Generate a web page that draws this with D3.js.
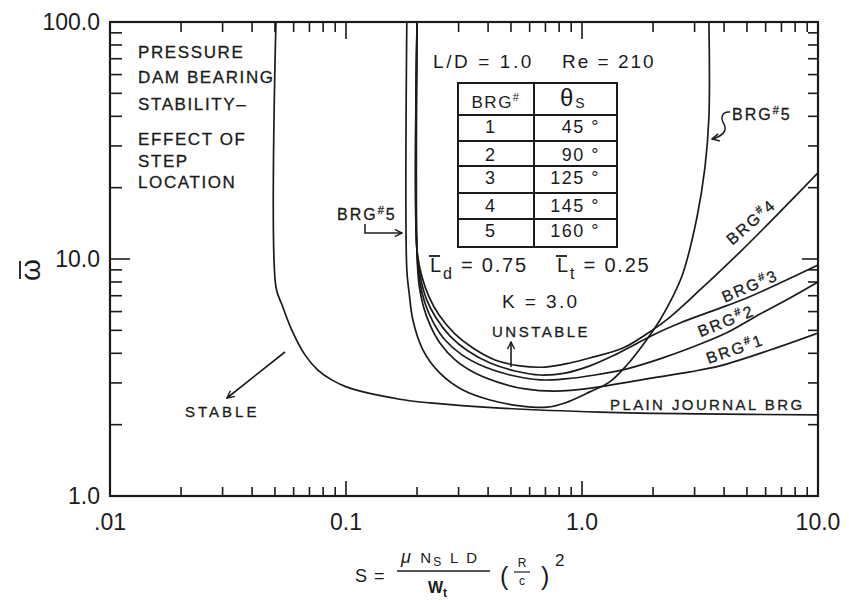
<!DOCTYPE html>
<html>
<head>
<meta charset="utf-8">
<script src="https://cdn.jsdelivr.net/npm/d3@7"></script>
<style>
  html, body { margin: 0; padding: 0; background: #fff; }
  svg { display: block; font-family: "Liberation Sans", Arial, sans-serif; }
</style>
</head>
<body>
<svg id="chart" width="849" height="603"></svg>
<script>
// Stability threshold curves: [Sommerfeld number S, whirl frequency ratio ω̄]
const plainJournal = [[0.0505,100],[0.0505,7.6],[0.0536,6.4],[0.059,5.0],[0.067,3.94],[0.076,3.4],[0.087,3.09],[0.101,2.88],[0.169,2.56],[0.227,2.47],[0.45,2.35],[1.19,2.26],[3.16,2.22],[10,2.2]];
const brg1 = [[0.2,100],[0.2,10.4],[0.204,7.77],[0.212,6.40],[0.227,5.27],[0.25,4.42],[0.29,3.75],[0.352,3.30],[0.449,3.00],[0.573,2.83],[0.768,2.77],[1.11,2.86],[2.0,3.15],[2.87,3.34],[3.84,3.54],[6.26,4.13],[10,4.87]];
const brg2 = [[0.2,100],[0.2,10.6],[0.206,7.92],[0.216,6.52],[0.234,5.42],[0.263,4.55],[0.31,3.94],[0.388,3.50],[0.495,3.24],[0.664,3.09],[0.847,3.12],[1.135,3.24],[1.55,3.44],[2.14,3.79],[2.87,4.21],[4.08,4.87],[5.68,5.86],[7.61,6.85],[10,8.0]];
const brg3 = [[0.2,100],[0.2,10.7],[0.208,8.15],[0.22,6.71],[0.241,5.64],[0.276,4.73],[0.329,4.09],[0.408,3.64],[0.52,3.37],[0.664,3.24],[0.847,3.30],[1.08,3.54],[1.38,3.94],[1.60,4.25],[2.0,4.78],[2.6,5.37],[4.08,6.34],[5.1,6.91],[6.9,7.92],[10,9.43]];
const brg4 = [[0.2,100],[0.2,10.9],[0.21,8.4],[0.225,6.91],[0.248,5.80],[0.287,4.87],[0.345,4.21],[0.428,3.75],[0.546,3.54],[0.697,3.50],[0.89,3.64],[1.08,3.82],[1.49,4.21],[1.85,4.78],[2.36,5.69],[3.16,7.40],[4.67,10.7],[6.9,15.8],[10,23.1]];
const brg5 = [[0.181,100],[0.181,9.0],[0.185,7.26],[0.192,5.53],[0.212,4.13],[0.25,3.30],[0.313,2.80],[0.408,2.54],[0.546,2.40],[0.711,2.37],[0.847,2.47],[1.08,2.75],[1.31,3.03],[1.55,3.57],[1.85,4.47],[2.14,5.53],[2.41,6.85],[2.68,8.73],[3.07,15.0],[3.32,24.4],[3.45,39.7],[3.45,100]];

// Bearing table
const bearingIds = ["1","2","3","4","5"];
const stepAngles = [45, 90, 125, 145, 160];

// Axis ticks: labelled decades and the minor marks between them
const xTickValues = [0.01, 0.1, 1, 10];
const xTickLabels = [".01", "0.1", "1.0", "10.0"];
const yTickValues = [1, 10, 100];
const yTickLabels = ["1.0", "10.0", "100.0"];
const xMinorTicks = [0.02,0.03,0.04,0.05,0.06,0.07,0.08,0.09,0.1,0.2,0.3,0.4,0.5,0.6,0.7,0.8,0.9,1,2,3,4,5,6,7,8,9];
const yMinorTicks = [2,3,4,5,6,7,8,9,10,20,30,40,50,60,70,80,90];

const ink = "#1b1b1b";
const plot = { left: 110, right: 818, top: 22, bottom: 496 };
const svg = d3.select("#chart");

const x = d3.scaleLog().domain([0.01, 10]).range([plot.left, plot.right]);
const y = d3.scaleLog().domain([1, 100]).range([plot.bottom, plot.top]);
const isDecade = v => Math.abs(Math.log10(v) - Math.round(Math.log10(v))) < 1e-9;

// frame with inward tick marks
const axisG = svg.append("g");
axisG.append("rect")
  .attr("x", plot.left).attr("y", plot.top)
  .attr("width", plot.right - plot.left).attr("height", plot.bottom - plot.top)
  .attr("fill", "none").attr("stroke", ink).attr("stroke-width", 2.2);
xMinorTicks.forEach(d => {
  const px = x(d), big = isDecade(d);
  axisG.append("line").attr("x1", px).attr("x2", px).attr("y1", plot.bottom).attr("y2", plot.bottom - (big ? 15 : 9))
    .attr("stroke", ink).attr("stroke-width", 1.6);
  axisG.append("line").attr("x1", px).attr("x2", px).attr("y1", plot.top).attr("y2", plot.top + (big ? 17 : 10))
    .attr("stroke", ink).attr("stroke-width", 1.6);
});
yMinorTicks.forEach(d => {
  const py = y(d), big = isDecade(d);
  axisG.append("line").attr("y1", py).attr("y2", py).attr("x1", plot.left).attr("x2", plot.left + (big ? 20 : 12))
    .attr("stroke", ink).attr("stroke-width", 1.6);
  axisG.append("line").attr("y1", py).attr("y2", py).attr("x1", plot.right).attr("x2", plot.right - (big ? 16 : 10))
    .attr("stroke", ink).attr("stroke-width", 1.6);
});

// tick labels
xTickValues.forEach((d, i) => {
  axisG.append("text").attr("x", x(d)).attr("y", plot.bottom + 34).attr("text-anchor", "middle")
    .attr("font-size", 23).attr("fill", ink).text(xTickLabels[i]);
});
yTickValues.forEach((d, i) => {
  axisG.append("text").attr("x", plot.left - 10).attr("y", y(d) + 8).attr("text-anchor", "end")
    .attr("font-size", 23).attr("fill", ink).text(yTickLabels[i]);
});

// curves
svg.append("clipPath").attr("id", "plotclip").append("rect")
  .attr("x", plot.left).attr("y", plot.top)
  .attr("width", plot.right - plot.left).attr("height", plot.bottom - plot.top);

const curveGen = d3.line().x(d => x(d[0])).y(d => y(d[1])).curve(d3.curveCatmullRom.alpha(0.5));
const curves = svg.append("g").attr("clip-path", "url(#plotclip)");
[plainJournal, brg1, brg2, brg3, brg4, brg5].forEach(s => {
  curves.append("path").attr("d", curveGen(s))
    .attr("fill", "none").attr("stroke", ink).attr("stroke-width", 1.7)
    .attr("stroke-linejoin", "round");
});

// arrowhead
const defs = svg.append("defs");
defs.append("marker").attr("id", "arrow")
  .attr("viewBox", "0 0 10 10").attr("refX", 9).attr("refY", 5)
  .attr("markerWidth", 9).attr("markerHeight", 9)
  .attr("markerUnits", "userSpaceOnUse").attr("orient", "auto")
  .append("path").attr("d", "M1,1 L9,5 L1,9")
  .attr("fill", "none").attr("stroke", ink).attr("stroke-width", 1.6);

function txt(xp, yp, str, size, ls, anchor) {
  return svg.append("text").attr("x", xp).attr("y", yp).text(str)
    .attr("font-size", size).attr("letter-spacing", ls || 0)
    .attr("text-anchor", anchor || "start").attr("fill", ink);
}
function seg(x1, y1, x2, y2, w) {
  svg.append("line").attr("x1", x1).attr("y1", y1).attr("x2", x2).attr("y2", y2)
    .attr("stroke", ink).attr("stroke-width", w || 1.6);
}

// title block
const titleLines = ["PRESSURE", "DAM BEARING", "STABILITY–", "EFFECT OF", "STEP", "LOCATION"];
const titleBase = [58, 83, 110, 145, 167, 188];
titleLines.forEach((t, i) => txt(138, titleBase[i], t, 17, 1.6).attr("stroke", ink).attr("stroke-width", 0.3));

// parameters
txt(433, 68, "L/D = 1.0", 19, 2.6);
txt(562, 68, "Re = 210", 19, 2);

// table
const tbl = { x0: 458, x1: 534, x2: 617, rows: [83, 115, 141, 166, 193, 219, 247] };
const tg = svg.append("g").attr("stroke", ink).attr("stroke-width", 2).attr("fill", "none");
tg.append("rect").attr("x", tbl.x0).attr("y", tbl.rows[0])
  .attr("width", tbl.x2 - tbl.x0).attr("height", tbl.rows[6] - tbl.rows[0]);
tg.append("line").attr("x1", tbl.x1).attr("x2", tbl.x1).attr("y1", tbl.rows[0]).attr("y2", tbl.rows[6]);
tbl.rows.slice(1, 6).forEach(r => tg.append("line").attr("x1", tbl.x0).attr("x2", tbl.x2).attr("y1", r).attr("y2", r));

const hdr = txt(496, 108, "BRG", 17, 1.5, "middle");
hdr.append("tspan").attr("font-size", 11).attr("dy", -7).text("#");
const th = svg.append("text").attr("x", 560).attr("y", 106).attr("fill", ink);
th.append("tspan").attr("font-size", 24).text("θ");
th.append("tspan").attr("font-size", 14).attr("dy", 2).attr("dx", 2).text("S");
const rowBase = [133, 161, 184, 212, 237];
bearingIds.forEach((b, i) => {
  txt(490, rowBase[i], b, 18, 0, "middle");
  txt(600, rowBase[i], stepAngles[i] + " °", 18, 1.5, "end");
});

// land ratios with barred L
function barredL(xp, sub, rest) {
  const t = svg.append("text").attr("x", xp).attr("y", 272).attr("fill", ink)
    .attr("font-size", 20).attr("letter-spacing", 1.8);
  t.append("tspan").text("L");
  t.append("tspan").attr("font-size", 16).attr("dy", 7).text(sub);
  t.append("tspan").attr("dy", -7).text(" = " + rest);
  seg(xp - 1, 256, xp + 10, 256, 1.8);
}
barredL(430, "d", "0.75");
barredL(557, "t", "0.25");
txt(502, 308, "K = 3.0", 19, 2.4);

// region labels
txt(492, 337, "UNSTABLE", 15, 2.5).attr("stroke", ink).attr("stroke-width", 0.3);
svg.append("line").attr("x1", 511).attr("y1", 367).attr("x2", 511).attr("y2", 342)
  .attr("stroke", ink).attr("stroke-width", 1.6).attr("marker-end", "url(#arrow)");
txt(185, 417, "STABLE", 15, 3).attr("stroke", ink).attr("stroke-width", 0.3);
svg.append("line").attr("x1", 285).attr("y1", 352).attr("x2", 227).attr("y2", 398)
  .attr("stroke", ink).attr("stroke-width", 1.6).attr("marker-end", "url(#arrow)");
txt(610, 410, "PLAIN JOURNAL BRG", 15, 2.4).attr("stroke", ink).attr("stroke-width", 0.3);

// bearing labels
function brgLabel(xp, yp, num, rot) {
  const t = svg.append("text").attr("x", xp).attr("y", yp).attr("fill", ink)
    .attr("stroke", ink).attr("stroke-width", 0.3)
    .attr("font-size", 16).attr("letter-spacing", 2).attr("text-anchor", rot === null ? "start" : "middle");
  if (rot !== null) t.attr("transform", `rotate(${rot},${xp},${yp})`).attr("dy", "0.35em");
  t.append("tspan").text("BRG");
  t.append("tspan").attr("font-size", 11).attr("dy", -6).text("#");
  t.append("tspan").attr("dy", 6).text(num);
  return t;
}
brgLabel(337, 220, "5", null);
svg.append("path").attr("d", "M365,224 L365,233 L402,233")
  .attr("fill", "none").attr("stroke", ink).attr("stroke-width", 1.5).attr("marker-end", "url(#arrow)");
brgLabel(732, 120, "5", null);
svg.append("path").attr("d", "M730,112 C722,111 720,118 724,124 C728,131 721,137 712,139")
  .attr("fill", "none").attr("stroke", ink).attr("stroke-width", 1.5).attr("marker-end", "url(#arrow)");
brgLabel(751, 222, "4", -41);
brgLabel(750, 286, "3", -23);
brgLabel(726, 321, "2", -22);
brgLabel(735, 349, "1", -19);

// y axis title: barred omega, rotated
svg.append("text").attr("transform", "translate(40,270) rotate(-90)")
  .attr("text-anchor", "middle").attr("font-size", 28).attr("fill", ink).text("ω");
seg(20, 261, 20, 279, 1.8);

// x axis title: S = (μ Ns L D / Wt)(R/c)^2
txt(355, 582, "S =", 18, 1);
seg(397, 571, 490, 571, 1.6);
const numer = svg.append("text").attr("x", 401).attr("y", 563).attr("fill", ink).attr("font-size", 15).attr("letter-spacing", 2.2);
numer.append("tspan").attr("font-style", "italic").attr("font-size", 18).text("μ ");
numer.append("tspan").text("N");
numer.append("tspan").attr("font-size", 12).attr("dy", 3).text("S");
numer.append("tspan").attr("dy", -3).text(" L D");
const den = svg.append("text").attr("x", 428).attr("y", 593).attr("fill", ink).attr("font-size", 16).attr("font-weight", "bold");
den.append("tspan").text("W");
den.append("tspan").attr("font-size", 12).attr("dy", 4).text("t");
txt(500, 585, "(", 25, 0);
txt(541, 585, ")", 25, 0);
txt(522, 567, "R", 12, 0, "middle");
seg(514, 572, 530, 572, 1.2);
txt(522, 585, "c", 12, 0, "middle");
txt(555, 566, "2", 17, 0);
</script>
</body>
</html>
